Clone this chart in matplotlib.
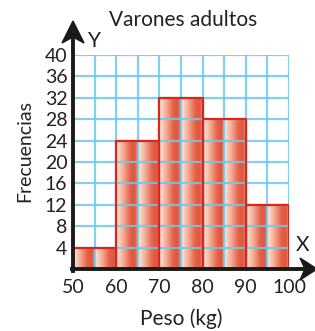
import numpy as np
import matplotlib
matplotlib.use("Agg")
import matplotlib.pyplot as plt
from matplotlib.colors import LinearSegmentedColormap
from matplotlib.patches import Polygon
from matplotlib.lines import Line2D

# Data
bin_edges = [50, 60, 70, 80, 90, 100]
frequencies = [4, 24, 32, 28, 12]
x_ticks = [50, 60, 70, 80, 90, 100]
y_ticks = [4, 8, 12, 16, 20, 24, 28, 32, 36, 40]
title = "Varones adultos"
x_label = "Peso (kg)"
y_label = "Frecuencias"

FONT = "Lato"
TXT = "#222222"
W, H = 315, 331
fig = plt.figure(figsize=(W / 100, H / 100), dpi=100)
x0, x1, y0, y1 = 73, 289, 55, 269
ax = fig.add_axes([x0 / W, 1 - y1 / H, (x1 - x0) / W, (y1 - y0) / H])
ax.set_xlim(50, 100)
ax.set_ylim(0, 40)

cmap = LinearSegmentedColormap.from_list(
    "bar", [(0, "#fde9df"), (0.35, "#f3a88f"), (0.65, "#e6624a"),
            (0.85, "#df563c"), (1.0, "#eb8a72")])
grad = np.linspace(0, 1, 64).reshape(1, -1)

for i, f in enumerate(frequencies):
    a, b = bin_edges[i], bin_edges[i + 1]
    half = (b - a) / 2
    for k in range(2):
        ax.imshow(grad, cmap=cmap, aspect="auto",
                  extent=(a + k * half, a + (k + 1) * half, 0, f),
                  zorder=1, interpolation="bilinear")

# grid
for gx in np.arange(55, 101, 5):
    ax.plot([gx, gx], [0, 40], color="#6ec8ee", lw=1.6, alpha=0.85, zorder=2)
for gy in y_ticks:
    ax.plot([50, 100], [gy, gy], color="#6ec8ee", lw=1.6, alpha=0.85, zorder=2)

# bar outlines
for i, f in enumerate(frequencies):
    a, b = bin_edges[i], bin_edges[i + 1]
    ax.plot([a, a, b, b], [0, f, f, 0], color="#d8281e", lw=1.6, zorder=3)

for s in ax.spines.values():
    s.set_visible(False)
ax.set_xticks(x_ticks)
ax.set_yticks(y_ticks)
ax.tick_params(length=0, labelsize=14)
ax.set_xticklabels([str(v) for v in x_ticks], fontfamily=FONT, color=TXT)
ax.set_yticklabels([str(v) for v in y_ticks], fontfamily=FONT, color=TXT)
ax.tick_params(axis="x", pad=7.5)
ax.tick_params(axis="y", pad=4)


def fx(px):
    return px / W


def fy(py):
    return 1 - py / H


def P(px, py):
    return (fx(px), fy(py))


# axis lines
AX = "#1a1a1a"
fig.add_artist(Line2D([fx(x0), fx(x0)], [fy(y1 + 1.5), fy(36)], lw=2.8,
                      color=AX, transform=fig.transFigure, zorder=5))
fig.add_artist(Line2D([fx(x0 - 1.5), fx(306)], [fy(y1), fy(y1)], lw=2.8,
                      color=AX, transform=fig.transFigure, zorder=5))
# arrowheads
fig.add_artist(Polygon([P(73, 21), P(84, 43), P(73, 37), P(62, 43)],
                       closed=True, color=AX, transform=fig.transFigure, zorder=6))
fig.add_artist(Polygon([P(317, 269), P(300, 258), P(305, 269), P(300, 280)],
                       closed=True, color=AX, transform=fig.transFigure, zorder=6))

fig.text(fx(183), fy(20), title, ha="center", va="center", fontsize=15,
         fontfamily=FONT, color=TXT)
fig.text(fx(94), fy(41), "Y", ha="center", va="center", fontsize=15,
         fontfamily=FONT, color=TXT)
fig.text(fx(303), fy(245), "X", ha="center", va="center", fontsize=15,
         fontfamily=FONT, color=TXT)
fig.text(fx(25), fy(151), y_label, ha="center", va="center", rotation=90,
         fontsize=14, fontfamily=FONT, color=TXT)
fig.text(fx(181), fy(319), x_label, ha="center", va="center", fontsize=15,
         fontfamily=FONT, color=TXT)

fig.savefig("out.png", dpi=100, facecolor="white")
